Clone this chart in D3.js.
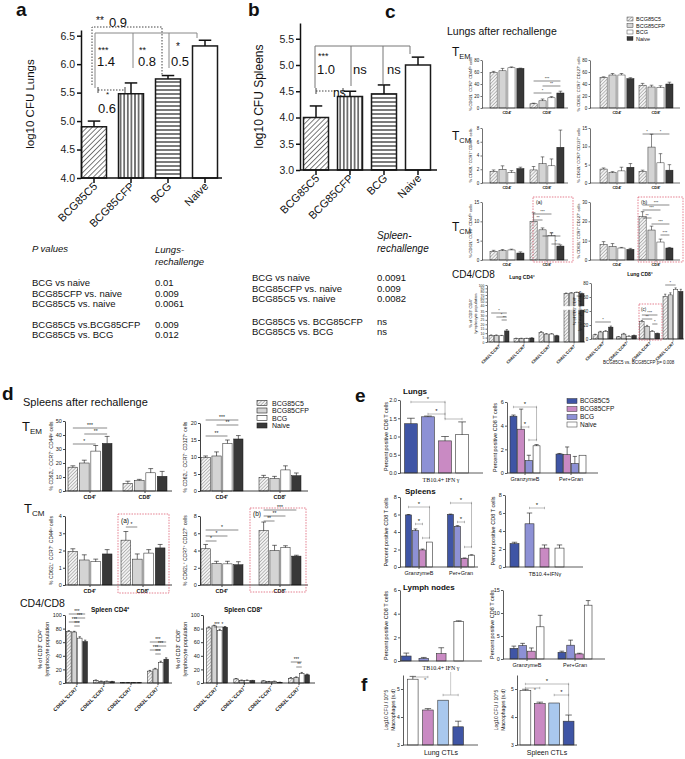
<!DOCTYPE html>
<html><head><meta charset="utf-8">
<script src="https://cdn.jsdelivr.net/npm/d3@7"></script>
<style>body{margin:0;background:#fff}svg{display:block}</style>
</head><body><svg id="fig" width="685" height="759"></svg>
<script>
// ---------------- DATA ----------------
const groupsAB = ["BCG85C5","BCG85CFP","BCG","Naive"];
const aLungMean = [4.90, 5.48, 5.74, 6.32];
const aLungErr  = [0.10, 0.19, 0.06, 0.10];
const aTicks = [4.0,4.5,5.0,5.5,6.0,6.5];
const bSpleenMean = [4.00, 4.40, 4.45, 5.00];
const bSpleenErr  = [0.22, 0.10, 0.17, 0.15];
const bTicks = [3.0,3.5,4.0,4.5,5.0,5.5];

const pRowsLung = ["BCG vs naive","BCG85CFP vs. naive","BCG85C5 vs. naive","BCG85C5 vs.BCG85CFP","BCG85C5 vs. BCG"];
const pLungs = ["0.01","0.009","0.0061","0.009","0.012"];
const pRowsSpleen = ["BCG vs naive","BCG85CFP vs. naive","BCG85C5 vs. naive","BCG85C5 vs. BCG85CFP","BCG85C5 vs. BCG"];
const pSpleen = ["0.0091","0.009","0.0082","ns","ns"];

const vaccines = ["BCG85C5","BCG85CFP","BCG","Naive"];
const cellGroups = ["CD4⁺","CD8⁺"];
const subsetGroups = ["CD62L⁺CCR7⁺","CD62L⁻CCR7⁺","CD62L⁺CCR7⁻","CD62L⁻CCR7⁻"];

// panel c (lungs)
const cTemCD44 = [[59,62,67,66],[7,12,17,25]];
const cTemCD44Err = [[2,4,1.5,0.5],[1,3,2,3]];
const cTemCD127 = [[51,55,55,49],[38,35,34,40]];
const cTemCD127Err = [[1,2.5,2.5,1.5],[3,3,3,3]];
const cTcmCD44 = [[1.7,2.0,1.5,2.1],[1.9,2.8,2.5,5.2]];
const cTcmCD44Err = [[0.2,0.5,0.3,0.2],[0.5,1.0,1.0,2.5]];
const cTcmCD127 = [[3.8,2.8,3.3,4.3],[3.2,9.8,5.5,3.5]];
const cTcmCD127Err = [[0.3,0.3,1.0,1.0],[0.3,3.5,2.5,1.5]];
const cTcm2CD44 = [[2.2,2.4,2.6,1.8],[10,7.8,6.3,3.6]];
const cTcm2CD44Err = [[0.3,0.3,0.2,0.3],[2.2,0.5,0.7,0.3]];
const cTcm2CD127 = [[8,7,6.2,5.5],[22.5,15.5,9.3,6.2]];
const cTcm2CD127Err = [[1.5,1.5,0.3,0.5],[2.5,2,1.5,0.3]];
const cLungCD4 = [[7.5,7.5,7,12.5],[4,4,4,4.5],[11,9,9,7],[75,76,78,74]];
const cLungCD4Err = [[0.5,0.5,0.5,1.5],[0.3,0.3,0.3,0.3],[0.8,0.5,0.5,0.5],[1,1,1,1.5]];
const cLungCD8 = [[6,10,11,17],[3,7,4,5],[25,18,11,8],[61,63,71,68]];
const cLungCD8Err = [[0.8,1,1,1.5],[0.5,1,0.5,0.5],[1.5,1.5,1,0.5],[3,3,2,3]];

// panel d (spleens)
const dTemCD44 = [[17,20,28.5,34],[5.5,7.5,13,10.5]];
const dTemCD44Err = [[1,2,4,5],[1.5,0.8,3,3.5]];
const dTemCD127 = [[9.8,10.3,14,15.3],[4.0,3.7,6.2,4.5]];
const dTemCD127Err = [[0.5,1.2,1.0,1.0],[0.6,0.6,1.2,0.8]];
const dTcmCD44 = [[1.95,1.45,1.35,1.8],[2.6,1.5,1.85,2.15]];
const dTcmCD44Err = [[0.15,0.3,0.15,0.25],[0.5,0.3,0.2,0.2]];
const dTcmCD127 = [[4.2,2.5,2.45,2.35],[6.3,4.0,4.35,3.35]];
const dTcmCD127Err = [[0.5,0.25,0.3,0.35],[1.0,0.6,0.2,0.1]];
const dSplCD4 = [[76,75,66,61],[4,2.5,2.5,2],[0.5,0.5,0.5,0.5],[17.5,20.5,30,35]];
const dSplCD4Err = [[1,1,2,2],[0.5,0.4,0.4,0.4],[0.1,0.1,0.1,0.1],[1,1,2,2]];
const dSplCD8 = [[81,84,77,82],[6,4,4,3.5],[3,2,2.5,1],[7,8,14,12]];
const dSplCD8Err = [[1.5,1,2,1],[0.5,0.4,0.4,0.4],[0.4,0.3,0.3,0.2],[1,1,1.5,1]];

// panel e (CTL cytokines)
const eGranGroups = ["GranzymeB","Per+Gran"];
const eLungIFNOrder = ["BCG85C5","BCG","BCG85CFP","Naive"];
const eLungIFN = [1.35,1.54,0.88,1.05];
const eLungIFNErr = [0.15,0.02,0.12,0.35];
const eLungGranOrder = ["BCG85C5","BCG85CFP","BCG","Naive"];
const eLungGran = [[4.8,3.7,1.05,2.3],[1.6,1.55,0.8,1.5]];
const eLungGranErr = [[0.1,1.7,0.45,0.1],[0.05,0.65,0.6,0]];
const eOrder2 = ["BCG85C5","BCG","BCG85CFP","Naive"];
const eSplGran = [[5.95,4.15,1.95,2.85],[6.0,4.65,1.0,1.35]];
const eSplGranErr = [[0.05,0.2,0.1,0],[0.05,0.08,0.03,0.05]];
const eSplIFN = [2.6,4.8,2.1,2.1];
const eSplIFNErr = [0.15,1.2,0.35,0.35];
const eLnIFN = [0.42,0.22,0.62,3.35];
const eLnIFNErr = [0.25,0.08,0.5,0.05];
const eLnGran = [[2.3,2.9,1.7,7.0],[1.45,3.0,1.1,11.7]];
const eLnGranErr = [[0.5,0.5,0.7,2.5],[0.25,1.1,0.15,1.0]];

// panel f
const fOrder = ["Naive","BCG85CFP","BCG","BCG85C5"];
const fLung = [5.35,4.25,4.6,3.65];
const fLungErr = [0.1,0.05,0,0.2];
const fSpleen = [4.95,4.48,4.5,3.85];
const fSpleenErr = [0.04,0.05,0,0.22];

// ---------------- STYLE ----------------
const FONT = "'Liberation Sans', Arial, Helvetica, sans-serif";
const grayFill = ["url(#hG)","#d4d4d4","#ffffff","#383838"];
const abFill = ["url(#hA)","url(#vA)","url(#zA)","#ffffff"];
const eColor = {BCG85C5:"#3f55a5", BCG85CFP:"#c98ac3", BCG:"#8d91d5", Naive:"#ffffff"};
const fColor = {BCG85C5:"#3f55a5", BCG85CFP:"#c98ac3", BCG:"#a9c8ee", Naive:"#ffffff"};

const svg = d3.select("#fig");
const defs = svg.append("defs");
function pattern(id, w, h, rot, lines, bg, col, sw){
  const p = defs.append("pattern").attr("id",id).attr("patternUnits","userSpaceOnUse")
    .attr("width",w).attr("height",h);
  if (rot) p.attr("patternTransform",`rotate(${rot})`);
  p.append("rect").attr("width",w).attr("height",h).attr("fill",bg);
  lines.forEach(l=>p.append("line").attr("x1",l[0]).attr("y1",l[1]).attr("x2",l[2]).attr("y2",l[3])
    .attr("stroke",col).attr("stroke-width",sw));
}
pattern("hA",3.6,4,45,[[0,0,0,4]],"#fff","#111",1.1);
pattern("vA",3.6,4,0,[[1.8,0,1.8,4]],"#fff","#111",1.1);
pattern("zA",4,4,0,[[0,2,4,2]],"#fff","#111",1.1);
pattern("hG",2.4,4,45,[[0,0,0,4]],"#f2f2f2","#444",0.7);

function txt(x,y,s,o={}){
  const t = svg.append("text").attr("x",x).attr("y",y).attr("font-size",o.fs||10)
    .attr("font-family",o.ff||FONT).attr("text-anchor",o.anchor||"start").attr("fill",o.fill||"#111");
  if(o.bold) t.attr("font-weight","bold");
  if(o.italic) t.attr("font-style","italic");
  if(o.rot!=null) t.attr("transform",`rotate(${o.rot},${x},${y})`);
  t.text(s); return t;
}
function tLabel(x,y,sub,fs){
  const t = txt(x,y,"T",{fs});
  t.append("tspan").attr("font-size",fs*0.62).attr("dy",fs*0.22).text(sub);
}
function line(x1,y1,x2,y2,o={}){
  const l = svg.append("line").attr("x1",x1).attr("y1",y1).attr("x2",x2).attr("y2",y2)
    .attr("stroke",o.col||"#111").attr("stroke-width",o.sw||0.6);
  if(o.dash) l.attr("stroke-dasharray",o.dash);
  return l;
}

function chart(c){
  const g = svg.append("g");
  const y = d3.scaleLinear().domain(c.dom).range(c.rng);
  const gx = d3.scalePoint().domain(d3.range(c.groups.length)).range(c.cx);
  const inner = d3.scaleBand().domain(d3.range(c.nSer)).range([-c.gw/2, c.gw/2]).paddingInner(c.pin ?? 0.2);
  const bw = inner.bandwidth();
  const base = y(c.dom[0]);
  const ac = c.acol || "#111";
  c.vals.forEach((row,gi)=>row.forEach((v,si)=>{
    const x = gx(gi)+inner(si);
    g.append("rect").attr("x",x).attr("y",y(v)).attr("width",bw).attr("height",base-y(v))
      .attr("fill",c.fill(gi,si)).attr("stroke",c.bcol||"#1a1a1a").attr("stroke-width",c.bsw||0.5);
    const e = c.errs[gi][si];
    if(e>0){
      const cx = x+bw/2, cap = bw*(c.capR||0.5);
      g.append("line").attr("x1",cx).attr("x2",cx).attr("y1",y(v)).attr("y2",y(v+e))
        .attr("stroke","#111").attr("stroke-width",c.esw||0.5);
      g.append("line").attr("x1",cx-cap/2).attr("x2",cx+cap/2).attr("y1",y(v+e)).attr("y2",y(v+e))
        .attr("stroke","#111").attr("stroke-width",c.esw||0.5);
    }
  }));
  if (c.breakAt){ // broken axis gap
    g.append("rect").attr("x",c.ax-2).attr("width",c.axEnd-c.ax+2).attr("y",y(c.breakAt[1])).attr("height",y(c.breakAt[0])-y(c.breakAt[1]))
      .attr("fill","#fff");
  }
  const ya = g.append("g").attr("transform",`translate(${c.ax},0)`).attr("color",ac)
    .call(d3.axisLeft(y).tickValues(c.ticks).tickFormat(c.fmt||(d=>d)).tickSize(c.ts||2).tickSizeOuter(0).tickPadding(c.tp||1.2));
  ya.select(".domain").attr("stroke-width",c.asw||0.6);
  ya.selectAll(".tick line").attr("stroke-width",c.asw||0.6);
  ya.selectAll(".tick text").attr("font-size",c.tf||5).attr("font-family",FONT).attr("fill","#222");
  g.append("line").attr("x1",c.ax).attr("x2",c.axEnd).attr("y1",base).attr("y2",base)
    .attr("stroke",ac).attr("stroke-width",c.asw||0.6);
  if(c.xticks!==false) c.groups.forEach((_,gi)=>g.append("line").attr("x1",gx(gi)).attr("x2",gx(gi))
      .attr("y1",base).attr("y2",base+(c.xts||c.ts||2)).attr("stroke",ac).attr("stroke-width",c.asw||0.6));
  if(c.glab){
    c.groups.forEach((lab,gi)=>{
      const gl = c.glab;
      if(gl.rot){
        txt(gx(gi)+(gl.dx||0), base+gl.dy, lab, {fs:gl.fs, anchor:"end", rot:-45, bold:gl.bold, ff:gl.ff});
      } else {
        txt(gx(gi), base+gl.dy, lab, {fs:gl.fs, anchor:"middle", bold:gl.bold, ff:gl.ff});
      }
    });
  }
  if(c.yt){
    const mid = (c.rng[0]+c.rng[c.rng.length-1])/2;
    c.yt.lines.forEach((s,i)=>txt(c.yt.xs[i], mid, s, {fs:c.yt.fs, anchor:"middle", rot:-90}));
  }
  const center = (gi,si)=>gx(gi)+inner(si)+bw/2;
  return {g,y,gx,inner,bw,center,base};
}
// significance brackets
function sig(ch, list, o={}){
  list.forEach(s=>{
    const [gi,s1,s2,lab,yy,drop] = s;
    const x1 = ch.center(gi,s1), x2 = ch.center(gi,s2);
    line(x1,yy,x2,yy,{col:o.col||"#111",sw:o.sw||0.5});
    if(o.ticks){ line(x1,yy-o.ticks,x1,yy+o.ticks,{col:o.col,sw:o.sw||0.5}); line(x2,yy-o.ticks,x2,yy+o.ticks,{col:o.col,sw:o.sw||0.5}); }
    if(drop) line(x2,yy,x2,drop,{col:o.col||"#111",sw:o.sw||0.5});
    if(lab) txt((x1+x2)/2, yy-(o.gap||0.6), lab, {fs:o.fs||4, anchor:"middle", fill:o.tcol||"#111"});
  });
}

// ---------------- PANEL a ----------------
txt(16,16,"a",{fs:19,bold:true});
const chA = chart({ax:81, axEnd:222, dom:[4.0,6.6], rng:[178,30], ticks:aTicks, fmt:d3.format(".1f"),
  groups:groupsAB, cx:[94,205], nSer:1, gw:25, pin:0, vals:aLungMean.map(v=>[v]), errs:aLungErr.map(v=>[v]),
  fill:(gi)=>abFill[gi], bsw:1.5, esw:1.5, capR:0.5, asw:1.5, ts:4, xts:5, tf:10.5, tp:2,
  glab:{rot:true, fs:11, dy:9, dx:4}, yt:{lines:["log10 CFU  Lungs"], xs:[34], fs:11.5}});
{
  const c = i=>chA.center(i,0), gcol="#888";
  line(c(0)+1,33,c(3)-8,33,{col:gcol,sw:1});
  line(c(0)+1,33,c(0)+1,88,{col:gcol,sw:1});
  line(c(1)+2,33,c(1)+2,68,{col:gcol,sw:1});
  line(c(2)+1,33,c(2)+1,68,{col:gcol,sw:1});
  line(c(3)-8,33,c(3)-8,38,{col:gcol,sw:1});
  svg.append("path").attr("d",`M${c(0)-2},85V27H${c(2)-6}V75`).attr("fill","none")
    .attr("stroke","#444").attr("stroke-width",1).attr("stroke-dasharray","1.5,1.5");
  line(c(0)+4,90,c(1)-6,90,{col:"#444",sw:1,dash:"1.5,1.5"});
  line(c(0)+4,87,c(0)+4,93,{col:"#444",sw:1});
  line(c(1)-6,87,c(1)-6,93,{col:"#444",sw:1});
  txt(96,24,"**",{fs:10}); txt(109,27,"0.9",{fs:13});
  txt(98,53,"***",{fs:9}); txt(97,66,"1.4",{fs:13});
  txt(139,53,"**",{fs:9}); txt(138,66,"0.8",{fs:13});
  txt(176,50,"*",{fs:10}); txt(171,66,"0.5",{fs:13});
  txt(106,97,"*",{fs:8}); txt(98,113,"0.6",{fs:13});
}

// ---------------- PANEL b ----------------
txt(248,16,"b",{fs:19,bold:true});
const chB = chart({ax:300, axEnd:437, dom:[3.0,5.8], rng:[170,23], ticks:bTicks, fmt:d3.format(".1f"),
  groups:groupsAB, cx:[316,418], nSer:1, gw:25, pin:0, vals:bSpleenMean.map(v=>[v]), errs:bSpleenErr.map(v=>[v]),
  fill:(gi)=>abFill[gi], bsw:1.5, esw:1.5, capR:0.5, asw:1.5, ts:4, xts:5, tf:10.5, tp:2,
  glab:{rot:true, fs:11, dy:9, dx:4}, yt:{lines:["log10 CFU Spleens"], xs:[263], fs:12}});
{
  const c = i=>chB.center(i,0), gcol="#777";
  line(c(0)-1,46,c(3)-8,46,{col:gcol,sw:1});
  line(c(0)-1,46,c(0)-1,88,{col:gcol,sw:1});
  line(c(1)+1,46,c(1)+1,86,{col:gcol,sw:1});
  line(c(2)-1,46,c(2)-1,84,{col:gcol,sw:1});
  line(c(3)-8,46,c(3)-8,54,{col:gcol,sw:1});
  line(c(0),91,c(1)-7,91,{col:"#444",sw:1,dash:"1.5,1.5"});
  line(c(0),88,c(0),94,{col:"#444",sw:1});
  line(c(1)-7,88,c(1)-7,94,{col:"#444",sw:1});
  txt(318,59,"***",{fs:9}); txt(317,74,"1.0",{fs:13});
  txt(353,74,"ns",{fs:13}); txt(387,74,"ns",{fs:13});
  txt(333,97,"ns",{fs:12});
}

// ---------------- P value tables ----------------
txt(32,252,"P values",{fs:9.5,italic:true});
txt(155,253,"Lungs-",{fs:9.5,italic:true});
txt(155,265,"rechallenge",{fs:9.5,italic:true});
const rowY1 = [286,297,307,328,338];
pRowsLung.forEach((r,i)=>{ txt(32,rowY1[i],r,{fs:9.5}); txt(155,rowY1[i],pLungs[i],{fs:9.5}); });
txt(377,239,"Spleen-",{fs:10,italic:true});
txt(377,252,"rechallenge",{fs:10,italic:true});
const rowY2 = [281,292,302,325,335];
pRowsSpleen.forEach((r,i)=>{ txt(252,rowY2[i],r,{fs:9.5}); txt(377,rowY2[i],pSpleen[i],{fs:9.5}); });

// ---------------- PANEL c ----------------
txt(385,18,"c",{fs:19,bold:true});
txt(447,35,"Lungs after rechallenge",{fs:10.5});
vaccines.forEach((v,i)=>{
  const yy = 19+i*6.5;
  svg.append("rect").attr("x",627).attr("y",yy-2).attr("width",6).attr("height",4)
    .attr("fill",grayFill[i]).attr("stroke","#222").attr("stroke-width",0.4);
  txt(636,yy+2,v,{fs:5.5});
});
const cB = {nSer:4, fill:(gi,si)=>grayFill[si], gw:34, pin:0.2, tf:4.5, ts:1.5, asw:0.6, bsw:0.45, esw:0.5,
  glab:{fs:4, dy:6, bold:true}};
const ytC = (s,x)=>({lines:[s], xs:[x], fs:4});
tLabel(452,56,"EM",12);
const c1L = chart({...cB, ax:482, axEnd:568, dom:[0,80], rng:[108,60], ticks:[0,20,40,60,80], cx:[507,547],
  groups:cellGroups, vals:cTemCD44, errs:cTemCD44Err, yt:ytC("% CD62L⁻ CCR7⁻ CD44ʰⁱ cells",472)});
sig(c1L,[[1,0,3,"***",81],[1,1,3,"**",86],[1,0,2,"*",93]],{fs:4});
const c1R = chart({...cB, ax:590, axEnd:680, dom:[0,80], rng:[108,60], ticks:[0,20,40,60,80], cx:[617,656],
  groups:cellGroups, vals:cTemCD127, errs:cTemCD127Err, yt:ytC("% CD62L⁻ CCR7⁻ CD127⁺ cells",580)});
tLabel(452,140,"CM",12);
const c2L = chart({...cB, ax:482, axEnd:568, dom:[0,8], rng:[183,128], ticks:[0,2,4,6,8], cx:[507,547],
  groups:cellGroups, vals:cTcmCD44, errs:cTcmCD44Err, yt:ytC("% CD62L⁺ CCR7⁺ CD44ʰⁱ cells",472)});
const c2R = chart({...cB, ax:590, axEnd:680, dom:[0,15], rng:[183,128], ticks:[0,5,10,15], cx:[617,656],
  groups:cellGroups, vals:cTcmCD127, errs:cTcmCD127Err, yt:ytC("% CD62L⁺ CCR7⁺ CD127⁺ cells",580)});
sig(c2R,[[1,0,1,"*",134],[1,1,3,"*",134]],{fs:4});
tLabel(452,231,"CM",12);
const c3L = chart({...cB, ax:482, axEnd:568, dom:[0,15], rng:[260,202], ticks:[0,5,10,15], cx:[507,547],
  groups:cellGroups, vals:cTcm2CD44, errs:cTcm2CD44Err, yt:ytC("% CD62L⁺ CCR7⁺ CD44ʰⁱ cells",472)});
sig(c3L,[[1,0,2,"***",214],[1,0,1,"**",220],[1,1,3,"**",236],[1,2,3,"*",244]],{fs:4});
const c3R = chart({...cB, ax:590, axEnd:680, dom:[0,30], rng:[260,202], ticks:[0,10,20,30], cx:[617,656],
  groups:cellGroups, vals:cTcm2CD127, errs:cTcm2CD127Err, yt:ytC("% CD62L⁺ CCR7⁺ CD127⁺ cells",580)});
sig(c3R,[[1,0,3,"***",205],[1,0,2,"***",210],[1,0,1,"**",218],[1,1,3,"***",224],[1,2,3,"***",235]],{fs:4});
const redBox = (x,y,w,h)=>svg.append("rect").attr("x",x).attr("y",y).attr("width",w).attr("height",h)
  .attr("fill","none").attr("stroke","#d9475f").attr("stroke-width",0.7).attr("stroke-dasharray","1.5,1.2");
redBox(533,197,40,65); txt(536,204,"(a)",{fs:5});
redBox(638,197,45,65); txt(641,204,"(b)",{fs:5});

txt(452,278,"CD4/CD8",{fs:10});
txt(522,279,"Lung CD4⁺",{fs:5,bold:true,anchor:"middle"});
txt(640,276,"Lung CD8⁺",{fs:5,bold:true,anchor:"middle"});
const c4L = chart({...cB, ax:487, axEnd:585, dom:[0,35,40,100], rng:[342,311,305,285],
  ticks:[0,5,10,15,20,25,30,35,40,50,60,70,80,90,100], tf:3.4, cx:[499,574], gw:20, pin:0.15,
  groups:subsetGroups, vals:cLungCD4, errs:cLungCD4Err, breakAt:[36,39],
  glab:{fs:4, dy:4, dx:2, rot:true, bold:true},
  yt:{lines:["% of CD3⁺ CD4⁺","lymphocyte population"], xs:[472,477], fs:4}});
sig(c4L,[[0,0,3,"*",313],[0,1,3,"*",317],[0,2,3,"**",320],[3,2,3,"*",296]],{fs:4});
const c4R = chart({...cB, ax:591, axEnd:684, dom:[0,80], rng:[339,283], ticks:[0,20,40,60,80],
  cx:[603,673], gw:20, pin:0.15, groups:subsetGroups, vals:cLungCD8, errs:cLungCD8Err,
  glab:{fs:4, dy:4, dx:2, rot:true, bold:true},
  yt:{lines:["% of CD3⁺ CD8⁺","lymphocyte population"], xs:[576,581], fs:4}});
sig(c4R,[[0,0,3,"*",322],[2,0,3,"***",315],[2,0,2,"**",319],[2,2,3,"*",324],[3,0,2,"*",285]],{fs:4});
redBox(639,304,23,36); txt(641,311,"(c)",{fs:4.5});
txt(603,364,"BCG85C5 vs. BCG85CFP p= 0.008",{fs:4.5});

// ---------------- PANEL d ----------------
txt(2,400,"d",{fs:19,bold:true});
txt(23,406,"Spleens after rechallenge",{fs:11});
vaccines.forEach((v,i)=>{
  const yy = [403,410.5,418,425.5][i];
  svg.append("rect").attr("x",257).attr("y",yy-2.5).attr("width",10).attr("height",5)
    .attr("fill",grayFill[i]).attr("stroke","#222").attr("stroke-width",0.6);
  txt(272,yy+2.5,v,{fs:7});
});
const dB = {nSer:4, fill:(gi,si)=>grayFill[si], pin:0.15, tf:5.5, ts:2, asw:0.8, bsw:0.5, esw:0.6,
  glab:{fs:5.5, dy:8, bold:true}};
const ytD = (s,x)=>({lines:[s], xs:[x], fs:5});
tLabel(22,431,"EM",13);
const d1L = chart({...dB, ax:65, axEnd:172, dom:[0,50], rng:[491,421], ticks:[0,10,20,30,40,50], cx:[90,145], gw:44,
  groups:cellGroups, vals:dTemCD44, errs:dTemCD44Err, yt:ytD("% CD62L⁻ CCR7⁻ CD44ʰⁱ cells",53)});
sig(d1L,[[0,0,3,"***",428],[0,1,3,"**",434],[0,0,2,"*",444]],{fs:5});
const d1R = chart({...dB, ax:200, axEnd:308, dom:[0,20], rng:[491,423], ticks:[0,5,10,15,20], cx:[222,280], gw:42,
  groups:cellGroups, vals:dTemCD127, errs:dTemCD127Err, yt:ytD("% CD62L⁻ CCR7⁻ CD127⁺ cells",187)});
sig(d1R,[[0,0,3,"***",420],[0,1,3,"**",425],[0,0,2,"**",436]],{fs:5});
tLabel(24,513,"CM",13);
const d2L = chart({...dB, ax:65, axEnd:172, dom:[0,4], rng:[585,516], ticks:[0,1,2,3,4], cx:[90,143], gw:44,
  groups:cellGroups, vals:dTcmCD44, errs:dTcmCD44Err, yt:ytD("% CD62L⁺ CCR7⁺ CD44ʰⁱ cells",53)});
sig(d2L,[[1,0,1,"*",527]],{fs:5});
const d2R = chart({...dB, ax:200, axEnd:308, dom:[0,8], rng:[585,516], ticks:[0,2,4,6,8], cx:[222,280], gw:42,
  groups:cellGroups, vals:dTcmCD127, errs:dTcmCD127Err, yt:ytD("% CD62L⁺ CCR7⁺ CD127⁺ cells",187)});
sig(d2R,[[0,0,3,"*",530],[0,0,2,"*",536],[0,0,1,"*",541],[1,0,3,"***",510],[1,0,2,"**",516],[1,0,1,"**",521]],{fs:5});
redBox(118,514,51,79); txt(121,523,"(a)",{fs:6.5});
redBox(250,508,56,84); txt(253,516,"(b)",{fs:6.5});

txt(20,607,"CD4/CD8",{fs:10.5});
txt(110,612,"Spleen CD4⁺",{fs:6.5,bold:true,anchor:"middle"});
txt(243,612,"Spleen CD8⁺",{fs:6.5,bold:true,anchor:"middle"});
const d3L = chart({...dB, ax:65, axEnd:172, dom:[0,100], rng:[683,615], ticks:[0,20,40,60,80,100], cx:[77,158], gw:21,
  groups:subsetGroups, vals:dSplCD4, errs:dSplCD4Err, glab:{fs:5, dy:5, dx:2, rot:true, bold:true},
  yt:{lines:["% of CD3⁺ CD4⁺","lymphocyte population"], xs:[42,49], fs:5.5}});
sig(d3L,[[0,0,3,"***",614],[0,1,3,"***",618],[0,0,2,"***",622],[0,1,2,"***",626],
  [3,0,3,"***",642],[3,1,3,"***",646],[3,0,2,"***",650],[3,1,2,"***",654]],{fs:4.5});
const d3R = chart({...dB, ax:203, axEnd:315, dom:[0,100], rng:[683,615], ticks:[0,20,40,60,80,100], cx:[217,299], gw:21,
  groups:subsetGroups, vals:dSplCD8, errs:dSplCD8Err, glab:{fs:5, dy:5, dx:2, rot:true, bold:true},
  yt:{lines:["% of CD3⁺ CD8⁺","lymphocyte population"], xs:[180,187], fs:5.5}});
sig(d3R,[[0,1,2,"***",627],[0,2,3,"*",627],[3,0,2,"***",662],[3,1,2,"**",667]],{fs:4.5});

// ---------------- PANEL e ----------------
txt(355,402,"e",{fs:19,bold:true});
txt(403,394,"Lungs",{fs:8,bold:true});
["BCG85C5","BCG85CFP","BCG","Naive"].forEach((v,i)=>{
  const yy = [401,409,417,424.5][i];
  svg.append("rect").attr("x",567).attr("y",yy-2.5).attr("width",10).attr("height",5)
    .attr("fill",eColor[v]).attr("stroke","#333").attr("stroke-width",0.5);
  txt(580,yy+2.3,v,{fs:6.5});
});
const eB = {nSer:4, tf:5.5, ts:2, asw:0.8, acol:"#333", bsw:0.6, bcol:"#333", esw:0.6, capR:0.6,
  glab:{fs:5.5, dy:8}};
const ytE = x=>({lines:["Percent positive CD8 T cells"], xs:[x], fs:5.5});
const eSig = {fs:6, col:"#777", ticks:1.2, gap:1, sw:0.5};
const eL1 = chart({...eB, ax:400, axEnd:483, dom:[0,2], rng:[473,400], ticks:[0,0.5,1,1.5,2], fmt:d3.format(".1f"),
  groups:["TB10.4"], cx:[436.5,436.5], gw:64, pin:0.25, xticks:false, vals:[eLungIFN], errs:[eLungIFNErr],
  fill:(gi,si)=>eColor[eLungIFNOrder[si]], glab:null, yt:ytE(388)});
txt(441,482,"TB10.4+ IFN γ",{fs:6,ff:"'Liberation Serif', serif",anchor:"middle"});
sig(eL1,[[0,0,2,"*",402,419],[0,1,2,"*",414],[0,2,3,"",419]],eSig);
const eL2 = chart({...eB, ax:507, axEnd:598, dom:[0,6], rng:[473,402], ticks:[0,2,4,6], cx:[525,571], gw:30, pin:0.1,
  groups:eGranGroups, vals:eLungGran, errs:eLungGranErr, fill:(gi,si)=>eColor[eLungGranOrder[si]], yt:ytE(497)});
sig(eL2,[[0,0,3,"*",407,440],[0,1,2,"*",427],[0,2,3,"",440]],eSig);

txt(405,494,"Spleens",{fs:8,bold:true});
const eS1 = chart({...eB, ax:400, axEnd:478, dom:[0,8], rng:[567,497], ticks:[0,2,4,6,8], cx:[419,461], gw:27, pin:0.15,
  groups:eGranGroups, vals:eSplGran, errs:eSplGranErr, fill:(gi,si)=>eColor[eOrder2[si]], yt:ytE(388)});
sig(eS1,[[0,0,3,"*",507,538],[0,1,2,"*",524],[0,2,3,"",538],[1,0,3,"*",503,547],[1,1,2,"*",522],[1,2,3,"",547]],eSig);
const eS2 = chart({...eB, ax:505, axEnd:583, dom:[0,8], rng:[567,495], ticks:[0,2,4,6,8], cx:[537,537], gw:54, pin:0.4,
  groups:["TB10.4"], xticks:false, vals:[eSplIFN], errs:[eSplIFNErr], fill:(gi,si)=>eColor[eOrder2[si]], glab:null, yt:ytE(495)});
txt(545,576,"TB10.4+IFNγ",{fs:5.5,anchor:"middle"});
sig(eS2,[[0,1,2,"*",508]],eSig);

txt(403,590,"Lymph nodes",{fs:8,bold:true});
const eN1 = chart({...eB, ax:400, axEnd:482, dom:[0,6], rng:[661,590], ticks:[0,2,4,6], cx:[432.5,432.5], gw:62, pin:0.45,
  groups:["TB10.4"], xticks:false, vals:[eLnIFN], errs:[eLnIFNErr], fill:(gi,si)=>eColor[eOrder2[si]], glab:null, yt:ytE(388)});
txt(441,670,"TB10.4+ IFN γ",{fs:6,ff:"'Liberation Serif', serif",anchor:"middle"});
const eN2 = chart({...eB, ax:503, axEnd:605, dom:[0,15], rng:[659,590], ticks:[0,5,10,15], cx:[527,575], gw:34, pin:0.12,
  groups:eGranGroups, vals:eLnGran, errs:eLnGranErr, fill:(gi,si)=>eColor[eOrder2[si]], yt:ytE(494)});

// ---------------- PANEL f ----------------
txt(361,691,"f",{fs:19,bold:true});
const fB = {nSer:4, tf:5, ts:2, asw:0.8, acol:"#333", bsw:0.6, bcol:"#333", esw:0.6, capR:0.6, xticks:false, glab:null};
const fL = chart({...fB, ax:403, axEnd:478, dom:[3,5.5], rng:[745,675], ticks:[3,4,5], cx:[435.5,435.5], gw:56, pin:0.3,
  groups:["Lung"], vals:[fLung], errs:[fLungErr], fill:(gi,si)=>fColor[fOrder[si]],
  yt:{lines:["Log10 CFU /  10^5","Macrophages (s.d)"], xs:[388,395], fs:5}});
txt(441,755,"Lung CTLs",{fs:7,anchor:"middle"});
sig(fL,[[0,0,1,"",677],[0,2,3,"",695]],eSig);
txt(fL.center(0,1)-4,682,"*",{fs:6,fill:"#666"});
line((fL.center(0,2)+fL.center(0,3))/2,672,(fL.center(0,2)+fL.center(0,3))/2,695,{col:"#999",sw:0.5});
const fR = chart({...fB, ax:517, axEnd:577, dom:[3,5.5], rng:[745,675], ticks:[3,4,5], cx:[547,547], gw:54, pin:0.25,
  groups:["Spleen"], vals:[fSpleen], errs:[fSpleenErr], fill:(gi,si)=>fColor[fOrder[si]],
  yt:{lines:["Log10 CFU /  10^5","Macrophages (s.d)"], xs:[498,505], fs:5}});
txt(547,755,"Spleen CTLs",{fs:7,anchor:"middle"});
sig(fR,[[0,0,3,"*",684,715],[0,0,1,"",688],[0,2,3,"*",695]],eSig);
txt(fR.center(0,1)-6,692,"*",{fs:6,fill:"#666"});
</script>
</body></html>
